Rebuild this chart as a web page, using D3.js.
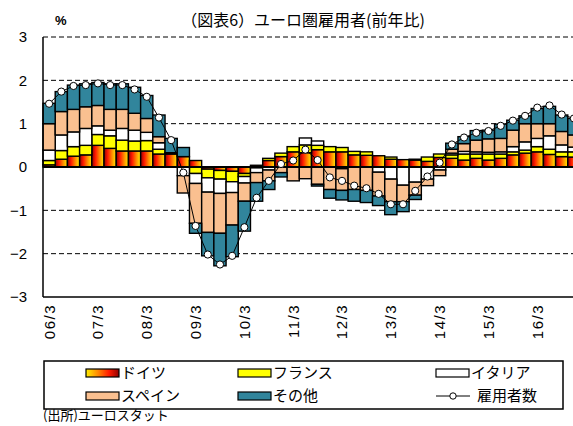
<!DOCTYPE html>
<html>
<head>
<meta charset="utf-8">
<script src="https://cdn.jsdelivr.net/npm/d3@7"></script>
<style>
  body { margin: 0; background: #fff; }
  text { font-family: "Liberation Sans", Arial, sans-serif; }
  .jp { font-family: "Noto Sans CJK JP", sans-serif; }
</style>
</head>
<body>
<svg id="chart" width="573" height="426"></svg>
<script>
// quarters 2006Q1 - 2016Q4
var quarters = ["06/3","06/6","06/9","06/12","07/3","07/6","07/9","07/12",
  "08/3","08/6","08/9","08/12","09/3","09/6","09/9","09/12",
  "10/3","10/6","10/9","10/12","11/3","11/6","11/9","11/12",
  "12/3","12/6","12/9","12/12","13/3","13/6","13/9","13/12",
  "14/3","14/6","14/9","14/12","15/3","15/6","15/9","15/12",
  "16/3","16/6","16/9","16/12"];
var tickLabels = ["06/3","07/3","08/3","09/3","10/3","11/3","12/3","13/3","14/3","15/3","16/3"];
var yTicks = [3, 2, 1, 0, -1, -2, -3];

// contributions (% points)
var germany = [0.05,0.18,0.25,0.28,0.50,0.43,0.37,0.37,0.37,0.30,0.30,0.24,
  0.15,-0.05,-0.08,-0.10,-0.15,0.04,0.15,0.24,0.35,0.33,0.40,0.35,
  0.35,0.28,0.27,0.26,0.18,0.17,0.16,0.13,0.22,0.20,0.16,0.20,
  0.16,0.20,0.28,0.32,0.35,0.29,0.24,0.23];
var france = [0.10,0.20,0.22,0.22,0.25,0.29,0.25,0.23,0.24,0.11,0.00,0.00,
  -0.15,-0.20,-0.20,-0.24,-0.07,-0.02,0.05,0.08,0.12,0.18,0.10,0.12,
  0.10,0.08,0.08,0.00,0.05,0.00,0.02,0.10,0.08,0.08,0.14,0.10,
  0.14,0.10,0.07,0.07,0.12,0.12,0.11,0.12];
var italy = [0.24,0.36,0.34,0.39,0.20,0.13,0.27,0.25,0.19,0.15,0.03,-0.20,
  -0.23,-0.33,-0.33,-0.25,-0.15,-0.11,-0.07,0.00,0.00,0.16,0.10,0.00,
  -0.04,0.00,0.00,-0.12,-0.28,-0.42,-0.35,-0.28,-0.07,0.04,0.06,0.05,
  0.04,0.05,0.12,0.19,0.19,0.31,0.16,0.11];
var spain = [0.61,0.54,0.52,0.50,0.47,0.48,0.44,0.39,0.32,0.14,0.00,-0.40,
  -0.92,-0.93,-0.92,-0.75,-0.42,-0.23,-0.25,-0.13,-0.32,-0.27,-0.40,-0.52,
  -0.50,-0.52,-0.54,-0.55,-0.52,-0.38,-0.30,-0.15,-0.13,0.09,0.18,0.27,
  0.31,0.31,0.38,0.42,0.34,0.28,0.31,0.28];
var others = [0.47,0.46,0.56,0.53,0.53,0.59,0.59,0.60,0.53,0.50,0.33,0.21,
  -0.23,-0.54,-0.75,-0.73,-0.69,-0.43,-0.20,-0.10,0.00,0.00,-0.04,-0.20,
  -0.22,-0.27,-0.28,-0.22,-0.30,-0.23,-0.10,0.00,0.00,0.14,0.16,0.22,
  0.20,0.33,0.23,0.18,0.35,0.40,0.38,0.38];
// total employment, y/y %
var total = [1.46,1.74,1.87,1.89,1.93,1.89,1.89,1.79,1.62,1.14,0.62,-0.13,
  -1.36,-2.02,-2.25,-2.05,-1.39,-0.71,-0.32,0.07,0.15,0.40,0.16,-0.24,
  -0.32,-0.43,-0.49,-0.62,-0.86,-0.86,-0.55,-0.22,0.10,0.52,0.68,0.79,
  0.83,0.95,1.07,1.18,1.37,1.42,1.21,1.12];

var seriesNames = ["ドイツ","フランス","イタリア","スペイン","その他"];
var keys = ["de","fr","it","es","ot"];
var fills = {de: "url(#deGrad)", fr: "#ffff00", it: "#ffffff", es: "#fac090", ot: "#31859c"};

var table = quarters.map(function (q, i) {
  return {q: q, de: germany[i], fr: france[i], it: italy[i], es: spain[i], ot: others[i]};
});

var svg = d3.select("#chart");

// Germany fill: dark red -> yellow across each bar, reversed in the legend swatch
var defs = svg.append("defs");
function fireGradient(id, reverse) {
  var g = defs.append("linearGradient").attr("id", id)
    .attr("x1", reverse ? 1 : 0).attr("y1", 0).attr("x2", reverse ? 0 : 1).attr("y2", 0);
  g.append("stop").attr("offset", "0%").attr("stop-color", "#900000");
  g.append("stop").attr("offset", "30%").attr("stop-color", "#ff1a00");
  g.append("stop").attr("offset", "65%").attr("stop-color", "#ff8c00");
  g.append("stop").attr("offset", "100%").attr("stop-color", "#ffee00");
}
fireGradient("deGrad", false);
fireGradient("deGradLegend", true);

var x = d3.scaleBand().domain(quarters).range([43, 580]).padding(0);
var y = d3.scaleLinear().domain([-3, 3]).range([297, 37]);

// grid
svg.append("g").selectAll("line")
  .data([3, 2, 1, -1, -2])
  .enter().append("line")
  .attr("x1", 43).attr("x2", 580)
  .attr("y1", function (d) { return y(d); })
  .attr("y2", function (d) { return y(d); })
  .attr("stroke", "#000").attr("stroke-width", 1)
  .attr("stroke-dasharray", "5,3");

svg.append("line").attr("x1", 43).attr("x2", 580)
  .attr("y1", y(-3)).attr("y2", y(-3))
  .attr("stroke", "#000").attr("stroke-width", 1.5);

// stacked bars
var stack = d3.stack().keys(keys).offset(d3.stackOffsetDiverging);
var layers = stack(table);

svg.append("g").selectAll("g")
  .data(layers)
  .enter().append("g")
  .attr("fill", function (d) { return fills[d.key]; })
  .selectAll("rect")
  .data(function (d) { return d.filter(function (p) { return p[1] !== p[0]; }); })
  .enter().append("rect")
  .attr("x", function (d) { return x(d.data.q); })
  .attr("width", x.bandwidth())
  .attr("y", function (d) { return y(d[1]); })
  .attr("height", function (d) { return y(d[0]) - y(d[1]); })
  .attr("stroke", "#000").attr("stroke-width", 1.4);

// zero line and left axis
svg.append("line").attr("x1", 43).attr("x2", 580)
  .attr("y1", y(0)).attr("y2", y(0))
  .attr("stroke", "#000").attr("stroke-width", 2);
svg.append("line").attr("x1", 43).attr("x2", 43)
  .attr("y1", y(3)).attr("y2", y(-3))
  .attr("stroke", "#000").attr("stroke-width", 1.5);

// total line
var cx = function (i) { return x(quarters[i]) + x.bandwidth() / 2; };
var line = d3.line()
  .x(function (d, i) { return cx(i); })
  .y(function (d) { return y(d); });
svg.append("path").datum(total)
  .attr("d", line).attr("fill", "none")
  .attr("stroke", "#000").attr("stroke-width", 1);
svg.append("g").selectAll("circle")
  .data(total)
  .enter().append("circle")
  .attr("cx", function (d, i) { return cx(i); })
  .attr("cy", function (d) { return y(d); })
  .attr("r", 3.6)
  .attr("fill", "#fff").attr("stroke", "#000").attr("stroke-width", 1);

// y labels
svg.append("g").selectAll("text")
  .data(yTicks)
  .enter().append("text")
  .attr("x", 27).attr("y", function (d) { return y(d); })
  .attr("dy", "0.36em")
  .attr("text-anchor", "end")
  .style("font-size", "15px")
  .text(function (d) { return d < 0 ? "\u2212" + Math.abs(d) : d; });

// x labels
svg.append("g").selectAll("text")
  .data(tickLabels)
  .enter().append("text")
  .attr("transform", function (d) {
    return "translate(" + (x(d) + x.bandwidth() / 2) + ",304) rotate(-90)";
  })
  .attr("dy", "0.36em")
  .attr("text-anchor", "end")
  .style("font-size", "15px")
  .style("letter-spacing", "1.5px")
  .text(function (d) { return d; });

// title and unit
svg.append("text").attr("x", 55).attr("y", 25)
  .style("font-size", "13px").style("font-weight", "bold").text("%");
svg.append("text").attr("class", "jp").attr("x", 303).attr("y", 26)
  .attr("text-anchor", "middle").style("font-size", "16px")
  .text("（図表6）ユーロ圏雇用者(前年比)");

// legend
var lg = svg.append("g");
lg.append("rect").attr("x", 44).attr("y", 361).attr("width", 519).attr("height", 48)
  .attr("fill", "#fff").attr("stroke", "#000").attr("stroke-width", 1.5);
var legendPos = [[86, 373], [238, 373], [436, 373], [86, 396], [238, 396]];
keys.forEach(function (k, i) {
  var p = legendPos[i];
  lg.append("rect").attr("x", p[0]).attr("y", p[1] - 4).attr("width", 33).attr("height", 8)
    .attr("fill", k === "de" ? "url(#deGradLegend)" : fills[k])
    .attr("stroke", "#000").attr("stroke-width", 1.2);
  lg.append("text").attr("class", "jp").attr("x", p[0] + 35).attr("y", p[1])
    .attr("dy", "0.35em").style("font-size", "15px").text(seriesNames[i]);
});
lg.append("line").attr("x1", 436).attr("x2", 470).attr("y1", 396).attr("y2", 396)
  .attr("stroke", "#000").attr("stroke-width", 1);
lg.append("circle").attr("cx", 453).attr("cy", 396).attr("r", 3.2)
  .attr("fill", "#fff").attr("stroke", "#000");
lg.append("text").attr("class", "jp").attr("x", 477).attr("y", 396)
  .attr("dy", "0.35em").style("font-size", "15px").text("雇用者数");

svg.append("text").attr("class", "jp").attr("x", 43).attr("y", 415)
  .attr("dy", "0.35em").style("font-size", "13px").text("(出所)ユーロスタット");
</script>
</body>
</html>
